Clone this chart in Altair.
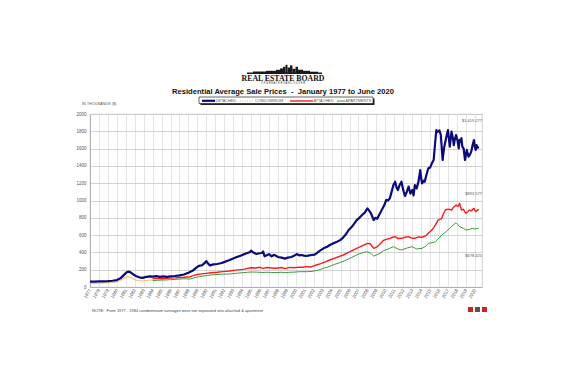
import altair as alt
import pandas as pd

# ---------------- data ----------------
det_year = [1977.0, 1977.5, 1978.0, 1978.5, 1979.0, 1979.5, 1980.0, 1980.4, 1980.8, 1981.1, 1981.3, 1981.5,
            1981.8, 1982.1, 1982.5, 1982.9, 1983.3, 1983.7, 1984.0, 1984.4, 1984.8, 1985.2, 1985.6, 1986.0,
            1986.5, 1987.0, 1987.5, 1988.0, 1988.5, 1988.9, 1989.2, 1989.5, 1989.8, 1990.0, 1990.2, 1990.4,
            1990.8, 1991.2, 1991.6, 1991.9, 1992.3, 1992.6, 1993.0, 1993.4, 1993.8, 1994.1, 1994.5, 1994.9,
            1995.0, 1995.3, 1995.6, 1995.9, 1996.2, 1996.35, 1996.5, 1996.8, 1997.0, 1997.3, 1997.6, 1998.0,
            1998.4, 1998.8, 1999.1, 1999.5, 1999.8, 2000.1, 2000.4, 2000.6, 2000.9, 2001.2, 2001.5, 2001.8,
            2002.1, 2002.3, 2002.7, 2003.1, 2003.5, 2003.8, 2004.2, 2004.6, 2005.0, 2005.3, 2005.6, 2005.9,
            2006.2, 2006.4, 2006.8, 2007.1, 2007.4, 2007.7, 2008.0, 2008.2, 2008.4, 2008.7, 2008.9, 2009.1,
            2009.3, 2009.6, 2009.9, 2010.1, 2010.3, 2010.5, 2010.7, 2010.9, 2011.1, 2011.25, 2011.4, 2011.6,
            2011.8, 2012.0, 2012.2, 2012.4, 2012.6, 2012.8, 2013.0, 2013.15, 2013.3, 2013.5, 2013.7, 2013.9,
            2014.0, 2014.1, 2014.3, 2014.4, 2014.6, 2014.8, 2015.0, 2015.2, 2015.4, 2015.55, 2015.7, 2015.8,
            2015.9, 2016.05, 2016.2, 2016.4, 2016.55, 2016.7, 2016.85, 2017.0, 2017.2, 2017.4, 2017.55, 2017.65,
            2017.75, 2017.9, 2018.05, 2018.2, 2018.3, 2018.4, 2018.5, 2018.6, 2018.75, 2018.9, 2019.0, 2019.1,
            2019.3, 2019.45, 2019.6, 2019.75, 2019.9, 2020.0, 2020.1, 2020.2, 2020.3, 2020.45]
det_val = [62, 63, 65, 66, 68, 72, 80, 100, 140, 170, 178, 172,
           150, 128, 112, 105, 118, 122, 120, 125, 117, 122, 118, 122,
           127, 135, 145, 165, 190, 227, 245, 251, 275, 300, 270, 250,
           262, 266, 275, 285, 300, 312, 330, 347, 360, 374, 390, 405,
           420, 395, 382, 390, 393, 410, 355, 370, 380, 355, 372, 347,
           340, 328, 340, 347, 360, 381, 365, 370, 362, 358, 365, 370,
           375, 389, 420, 447, 465, 485, 505, 524, 545, 574, 610, 659,
           690, 716, 774, 800, 832, 860, 909, 880, 850, 774, 800, 790,
           832, 890, 950, 1006, 1000, 1025, 1100, 1179, 1217, 1150, 1121, 1180,
           1217, 1120, 1052, 1100, 1160, 1080, 1121, 1060, 1179, 1140, 1217, 1352,
           1260, 1198, 1230, 1217, 1300, 1372, 1380, 1430, 1468, 1650, 1815, 1790,
           1796, 1810, 1757, 1468, 1600, 1680, 1750, 1815, 1622, 1796, 1720, 1640,
           1700, 1757, 1700, 1603, 1700, 1680, 1720, 1622, 1600, 1468, 1520, 1584,
           1507, 1530, 1565, 1640, 1699, 1620, 1584, 1640, 1610, 1619]

condo_year = [1977.0, 1978.0, 1979.0, 1979.5, 1980.0, 1980.4, 1980.8, 1981.0, 1981.3, 1981.6, 1982.1,
              1982.7, 1983.3, 1984.0]
condo_val = [42, 45, 50, 54, 62, 75, 100, 115, 119, 108, 81, 69, 75, 81]

att_year = [1984.0, 1984.5, 1985.0, 1985.5, 1986.0, 1986.5, 1987.0, 1987.5, 1988.2, 1988.6, 1989.0, 1989.5,
            1990.0, 1990.5, 1991.2, 1991.8, 1992.6, 1993.3, 1994.1, 1994.6, 1995.0, 1995.5, 1996.0, 1996.3,
            1996.8, 1997.3, 1997.8, 1998.4, 1998.8, 1999.3, 1999.8, 2000.4, 2000.8, 2001.2, 2001.7, 2002.3,
            2002.8, 2003.3, 2003.8, 2004.5, 2005.3, 2006.0, 2006.8, 2007.4, 2008.0, 2008.3, 2008.7, 2009.0,
            2009.3, 2009.8, 2010.1, 2010.5, 2010.8, 2011.1, 2011.4, 2011.8, 2012.2, 2012.6, 2012.9, 2013.3,
            2013.7, 2014.1, 2014.5, 2014.8, 2015.2, 2015.5, 2015.9, 2016.3, 2016.5, 2016.7, 2017.0, 2017.4,
            2017.6, 2017.9, 2018.1, 2018.3, 2018.5, 2018.7, 2019.0, 2019.2, 2019.4, 2019.6, 2019.9, 2020.1,
            2020.3, 2020.45]
att_val = [95, 100, 95, 100, 103, 105, 110, 113, 119, 135, 145, 152,
           158, 165, 170, 178, 185, 195, 204, 215, 223, 220, 228, 216,
           225, 220, 216, 225, 212, 227, 222, 230, 228, 235, 232, 254,
           270, 290, 312, 340, 370, 405, 447, 475, 505, 500, 447, 460,
           485, 540, 551, 563, 575, 582, 560, 563, 575, 582, 565, 563,
           580, 575, 590, 620, 659, 700, 774, 794, 850, 890, 900, 890,
           920, 948, 930, 967, 890, 900, 852, 870, 890, 880, 909, 870,
           890, 894]

apt_year = [1984.0, 1984.5, 1985.0, 1985.5, 1986.0, 1986.5, 1987.0, 1987.5, 1988.2, 1988.6, 1989.0, 1989.5,
            1990.0, 1990.5, 1991.2, 1991.8, 1992.6, 1993.3, 1994.1, 1994.6, 1995.0, 1995.6, 1996.2, 1996.8,
            1997.3, 1997.8, 1998.4, 1998.8, 1999.3, 1999.8, 2000.4, 2001.2, 2001.8, 2002.5, 2003.1, 2003.8,
            2004.3, 2004.9, 2005.6, 2006.2, 2006.8, 2007.3, 2007.9, 2008.3, 2008.7, 2009.0, 2009.4, 2009.8,
            2010.5, 2010.9, 2011.4, 2011.8, 2012.4, 2013.0, 2013.5, 2014.1, 2014.5, 2014.8, 2015.2, 2015.6,
            2016.0, 2016.3, 2016.7, 2017.0, 2017.4, 2017.9, 2018.1, 2018.3, 2018.7, 2019.0, 2019.4, 2019.7,
            2020.0, 2020.3, 2020.45]
apt_val = [73, 78, 80, 82, 85, 88, 92, 95, 92, 105, 115, 125,
           131, 140, 145, 148, 150, 158, 166, 170, 173, 172, 168, 170,
           168, 166, 170, 165, 170, 172, 177, 177, 180, 195, 216, 240,
           260, 281, 310, 340, 370, 390, 408, 395, 358, 370, 389, 420,
           447, 466, 440, 428, 450, 466, 440, 447, 470, 505, 510, 524,
           565, 601, 630, 659, 700, 743, 720, 697, 680, 659, 665, 678,
           670, 680, 678]

series_names = ["DETACHED", "CONDOMINIUM", "ATTACHED", "APARTMENTS"]
end_labels = ["$1,619,277", "$893,577", "$678,425"]
year_ticks = list(range(1977, 2021))
value_ticks = list(range(0, 2001, 200))

NB = "\u00a0"
title_text = "Residential Average Sale Prices" + NB * 2 + "-" + NB * 2 + "January 1977 to June 2020"
note_text = "NOTE:" + NB + " From 1977 - 1984 condominium averages were not separated into attached & apartment"
units_text = "IN THOUSANDS ($)"

# ---------------- styling ----------------
W, H = 392, 173
FONT = "Liberation Sans"
C_DET, C_CONDO, C_ATT, C_APT = "#0a0a7a", "#f0c37e", "#ff1a1a", "#3f9a3f"

xscale = alt.Scale(domain=[1977, 2020.8], nice=False, zero=False)
yscale = alt.Scale(domain=[0, 2000], nice=False)
xaxis = alt.Axis(values=year_ticks, format="d", labelAngle=-60, labelAlign="right", labelBaseline="middle",
                 labelFontSize=4.5, labelColor="#555555", labelFont=FONT, labelPadding=2,
                 labelOverlap=False, grid=True, gridColor="#dedede", gridWidth=0.8, ticks=False,
                 domainColor="#b0b0b0", title=None)
yaxis = alt.Axis(values=value_ticks, format="d", labelFontSize=4.5, labelColor="#555555", labelFont=FONT,
                 labelPadding=4, grid=True, gridColor="#c8c8c8", gridWidth=0.8, ticks=False,
                 domainColor="#b0b0b0", title=None)


def line(years, vals, color, width, dash=None):
    df = pd.DataFrame({"year": years, "value": vals})
    kw = dict(color=color, strokeWidth=width, strokeJoin="round")
    if dash:
        kw["strokeDash"] = dash
    return alt.Chart(df).mark_line(**kw).encode(
        x=alt.X("year:Q", scale=xscale, axis=xaxis),
        y=alt.Y("value:Q", scale=yscale, axis=yaxis),
    )


def one(text=""):
    return pd.DataFrame({"t": [text]})


def txt(text, x, y, size, color="#333333", align="left", weight="normal", font=FONT):
    kw = dict(fontSize=size, color=color, align=align, baseline="middle", fontWeight=weight, font=font)
    return alt.Chart(one(text)).mark_text(**kw).encode(x=alt.value(x), y=alt.value(y), text="t:N")


def rect(x, x2, y, y2, color, stroke=None, sw=0):
    kw = dict(color=color)
    if stroke:
        kw.update(stroke=stroke, strokeWidth=sw)
    return alt.Chart(one()).mark_rect(**kw).encode(
        x=alt.value(x), x2=alt.value(x2), y=alt.value(y), y2=alt.value(y2))


def rule(x, x2, y, color, width, dash=None):
    kw = dict(color=color, strokeWidth=width)
    if dash:
        kw["strokeDash"] = dash
    return alt.Chart(one()).mark_rule(**kw).encode(x=alt.value(x), x2=alt.value(x2), y=alt.value(y))


layers = [
    line(condo_year, condo_val, C_CONDO, 1.2),
    line(apt_year, apt_val, C_APT, 1.0),
    line(att_year, att_val, C_ATT, 1.4),
    line(det_year, det_val, C_DET, 2.2),
]

# end value labels
layers += [
    txt(end_labels[0], 392, 7, 4, "#555555", align="right"),
    txt(end_labels[1], 392, 80, 4, "#555555", align="right"),
    txt(end_labels[2], 392, 141.5, 4, "#555555", align="right"),
]

# titles / notes
layers += [
    txt(title_text, 193, -22, 7.6, "#111111", align="center", weight="bold"),
    txt(units_text, -8, -10, 3.8, "#555555"),
    txt(note_text, 2, 197, 4, "#444444"),
]

# legend box with shadow
lg_y = -13
layers += [
    rect(110.5, 284.5, -15.5, -9, "#222222"),
    rect(109, 283, -17, -10.5, "#ffffff", stroke="#222222", sw=0.7),
    rule(112, 125, lg_y - 0.2, C_DET, 2.2),
    txt(series_names[0], 125.5, lg_y, 3.8, "#555555"),
    rule(150, 163, lg_y, "#d9b070", 0.9, dash=[1, 1.3]),
    txt(series_names[1], 165, lg_y, 3.8, "#555555"),
    rule(200, 223, lg_y, C_ATT, 1.4),
    txt(series_names[2], 223.5, lg_y, 3.8, "#555555"),
    rule(247, 255, lg_y, C_APT, 1.0),
    txt(series_names[3], 255.5, lg_y, 3.8, "#555555"),
]

# logo: skyline + wordmark
sky = [(157, 232, -41.5), (163, 176, -42.5), (176, 186, -43.2), (186, 190, -44.2), (190, 193, -45.6),
       (193, 195.5, -47.2), (195.5, 197.5, -49.2), (197.5, 200, -46.5), (200, 202.5, -48.6),
       (202.5, 205.5, -45.2), (205.5, 208, -47.2), (208, 213, -44.3), (213, 220, -43.2), (220, 228, -42.3)]
for a, b, top in sky:
    layers.append(rect(a, b, top, -40, "#1a1a1a"))
layers += [
    txt("REAL ESTATE BOARD", 193, -35.5, 7.8, "#111111", align="center", weight="bold", font="Liberation Serif"),
    txt("O F   G R E A T E R   V A N C O U V E R", 193, -30.3, 2.6, "#333333", align="center"),
]

# small logos bottom right
layers += [
    rect(378, 383, 193, 198, "#cc2222"),
    rect(385, 390, 193, 198, "#555555"),
    rect(392, 397, 193, 198, "#cc2222"),
]

chart = alt.layer(*layers).properties(
    width=W, height=H,
    autosize=alt.AutoSizeParams(type="none"),
    padding={"left": 82, "top": 106, "right": 60, "bottom": 60},
    background="#ffffff",
).configure_view(stroke="#c4c4c4", strokeWidth=0.8)

chart.save("out.html", embed_options={"renderer": "svg", "actions": False})
